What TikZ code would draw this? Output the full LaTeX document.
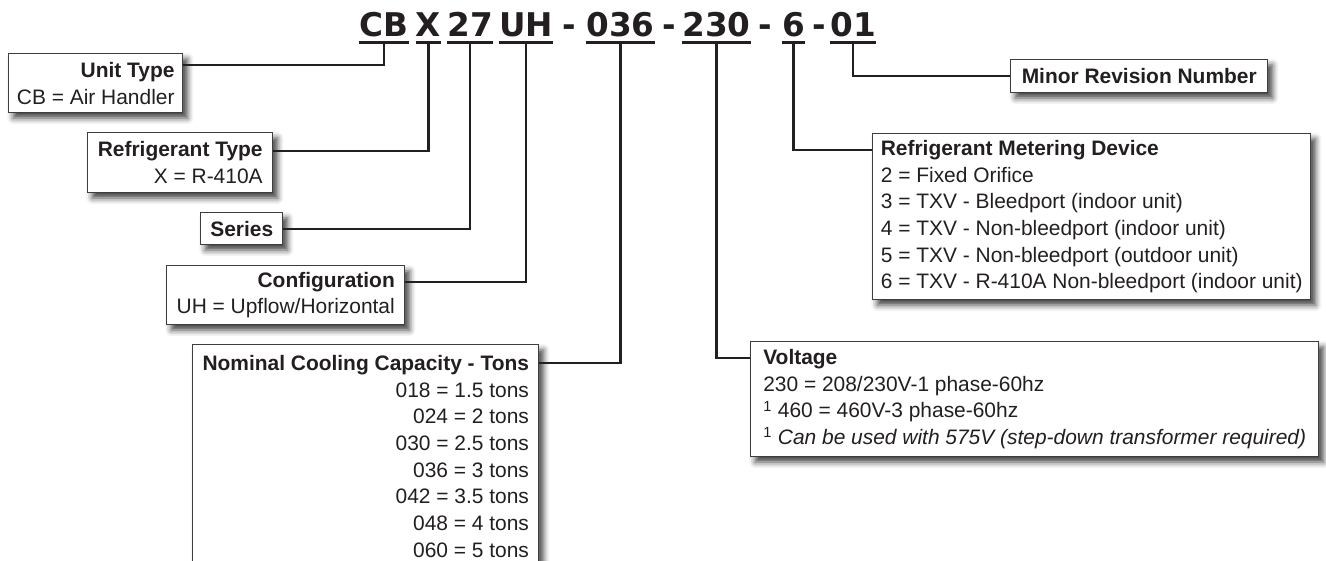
\documentclass[tikz,border=0pt]{standalone}
\usepackage{fontspec}
\setmainfont{Liberation Sans}
\newfontfamily\codefont{DejaVu Sans}
\usepackage{tikz}
\usetikzlibrary{calc,shadows.blur}
\definecolor{inkgrey}{RGB}{35,31,32}
\definecolor{framegrey}{RGB}{62,62,62}

\begin{document}
\begin{tikzpicture}[
			x=0.75pt, y=-0.75pt,
			code/.style={inner sep=0pt, anchor=base, text=inkgrey, font=\codefont\bfseries\fontsize{24.5}{24.5}\selectfont},
			box/.style={draw=framegrey, line width=1.1pt, fill=white, anchor=north west, inner sep=3pt, text=inkgrey, font=\fontsize{15.7}{20}\selectfont,
				blur shadow={shadow xshift=3.5pt, shadow yshift=-4pt, shadow blur radius=4.5pt, shadow opacity=75}},
			underline/.style={line width=2.25pt, draw=inkgrey},
			link/.style={line width=1.6pt, draw=inkgrey}
			]
			\useasboundingbox (0,0) rectangle (1326,560);
			% Code segments
			\node[code] (cCB) at (384,37) {CB};
			\node[code] (cX) at (428.5,37) {X};
			\node[code] (cSer) at (470,37) {27};
			\node[code] (cCfg) at (526,37) {UH};
			\node[code] (d1) at (569.5,37) {-};
			\node[code] (cCap) at (620.5,37) {036};
			\node[code] (d2) at (669.5,37) {-};
			\node[code] (cVolt) at (716.5,37) {230};
			\node[code] (d3) at (765.5,37) {-};
			\node[code] (cMet) at (793.5,37) {6};
			\node[code] (d4) at (819.5,37) {-};
			\node[code] (cRev) at (853,37) {01};
			\foreach \s in {cCB,cX,cSer,cCfg,cCap,cVolt,cMet,cRev}
				\draw[underline] ($(\s.base west)+(0,6)$) -- ($(\s.base east)+(0,6)$);
			
			% Boxes
			\node[box, minimum width=130.5pt, minimum height=44.25pt, align=right] (unit) at (8,53) {\textbf{Unit Type}\\CB = Air Handler};
			\node[box, minimum width=138.75pt, minimum height=45pt, align=right] (refr) at (87,132) {\textbf{Refrigerant Type}\\X = R-410A};
			\node[box, minimum width=61.5pt, minimum height=24pt] (series) at (200,212) {\textbf{Series}};
			\node[box, minimum width=178.5pt, minimum height=44.25pt, align=right] (config) at (166,265) {\textbf{Configuration}\\UH = Upflow/Horizontal};
			\node[box, minimum width=259.5pt, minimum height=167.25pt, align=right] (cool) at (192,344) {\textbf{Nominal Cooling Capacity - Tons}\\018 = 1.5 tons\\024 = 2 tons\\030 = 2.5 tons\\036 = 3 tons\\042 = 3.5 tons\\048 = 4 tons\\060 = 5 tons};
			\node[box, minimum width=192.75pt, minimum height=24.75pt] (minor) at (1010,59) {\textbf{Minor Revision Number}};
			\node[box, minimum width=328.5pt, minimum height=124.5pt, align=left] (meter) at (872,133) {\textbf{Refrigerant Metering Device}\\2 = Fixed Orifice\\3 = TXV - Bleedport (indoor unit)\\4 = TXV - Non-bleedport (indoor unit)\\5 = TXV - Non-bleedport (outdoor unit)\\6 = TXV - R-410A Non-bleedport (indoor unit)};
			\node[box, minimum width=426pt, minimum height=86.25pt, align=left] (volt) at (750,341) {\textbf{Voltage}\\230 = 208/230V-1 phase-60hz\\\textsuperscript{1} 460 = 460V-3 phase-60hz\\\textsuperscript{1} \textit{Can be used with 575V (step-down transformer required)}};
			
			% Connectors
			\draw[link] ($(cCB.base)+(0,6)$) |- ([yshift=-9pt]unit.north east);
			\draw[link] ($(cX.base)+(0,6)$) |- ([yshift=-14.25pt]refr.north east);
			\draw[link] ($(cSer.base)+(0,6)$) |- (series.east);
			\draw[link] ($(cCfg.base)+(0,6)$) |- ([yshift=-12.75pt]config.north east);
			\draw[link] ($(cCap.base)+(0,6)$) |- ([yshift=-14.25pt]cool.north east);
			\draw[link] ($(cVolt.base)+(0,6)$) |- ([yshift=-12.75pt]volt.north west);
			\draw[link] ($(cMet.base)+(0,6)$) |- ([yshift=-12.75pt]meter.north west);
			\draw[link] ($(cRev.base)+(0,6)$) |- (minor.west);
		\end{tikzpicture}
\end{document}
